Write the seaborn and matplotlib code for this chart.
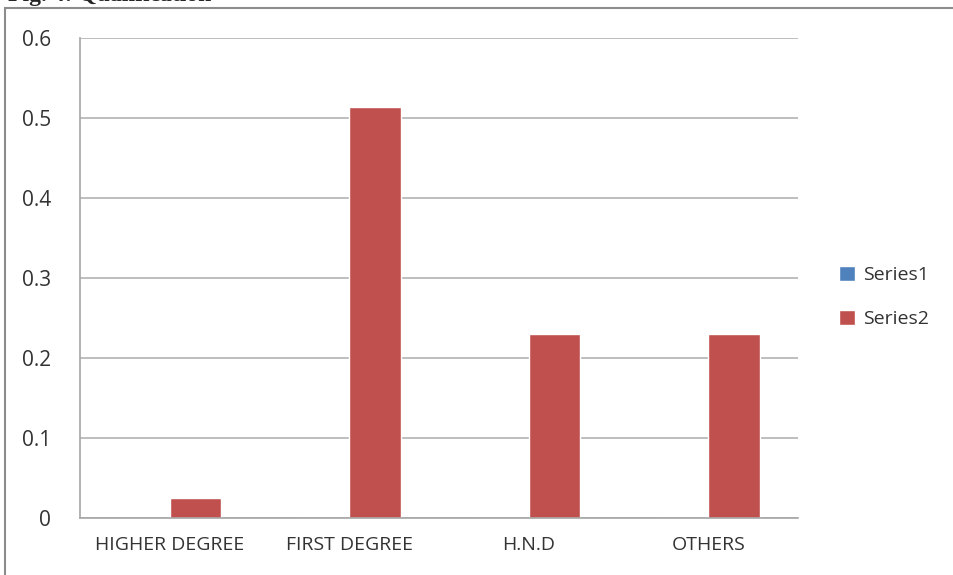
import matplotlib
matplotlib.use("Agg")
import matplotlib.pyplot as plt
import seaborn as sns
import pandas as pd
from matplotlib.patches import Rectangle

categories = ["HIGHER DEGREE", "FIRST DEGREE", "H.N.D", "OTHERS"]
series1 = [0.0, 0.0, 0.0, 0.0]
series2 = [0.025, 0.514, 0.23, 0.23]
series_names = ["Series1", "Series2"]
yticks = [0, 0.1, 0.2, 0.3, 0.4, 0.5, 0.6]
ytick_labels = ["0", "0.1", "0.2", "0.3", "0.4", "0.5", "0.6"]

df = pd.DataFrame({
    "category": categories * 2,
    "series": [series_names[0]] * 4 + [series_names[1]] * 4,
    "value": series1 + series2,
})

sns.set_style("white")
plt.rcParams["font.family"] = ["Open Sans", "DejaVu Sans"]

W, H = 954, 575
fig = plt.figure(figsize=(W / 100, H / 100), dpi=100)
ax = fig.add_axes([80 / W, 1 - 518 / H, (798 - 80) / W, (518 - 38) / H])

palette = {"Series1": "#4F81BD", "Series2": "#C0504D"}
sns.barplot(data=df, x="category", y="value", hue="series", order=categories,
            hue_order=series_names, palette=palette, width=0.572, ax=ax,
            saturation=1, errorbar=None, legend=True)

ax.set_xlim(-0.5, 3.5)
ax.set_ylim(0, 0.6)
ax.set_yticks(yticks)
ax.set_yticklabels(ytick_labels, fontsize=15, color="#333333")
ax.set_xticks([-0.5, 0.5, 1.5, 2.5, 3.5], minor=False)
ax.set_xticklabels([])
ax.set_xticks([0, 1, 2, 3], minor=True)
ax.set_xticklabels(categories, minor=True, fontsize=14, color="#333333")
ax.tick_params(axis="x", which="minor", length=0, pad=13)
ax.tick_params(axis="x", which="major", length=8, color="#A6A6A6", width=1.2, direction="out")
ax.tick_params(axis="y", length=7, color="#A6A6A6", width=1.2, direction="out", pad=14)
ax.set_xlabel("")
ax.set_ylabel("")
ax.yaxis.grid(True, color="#B3B3B3", linewidth=1.2)
ax.set_axisbelow(True)
for s in ["top", "right"]:
    ax.spines[s].set_visible(False)
for s in ["left", "bottom"]:
    ax.spines[s].set_color("#A6A6A6")
    ax.spines[s].set_linewidth(1.2)

handles, labels = ax.get_legend_handles_labels()
ax.legend(handles, labels, loc="center left", bbox_to_anchor=(822 / W, 1 - 297 / H),
          bbox_transform=fig.transFigure, frameon=False, fontsize=14,
          handlelength=0.8, handleheight=0.8, handletextpad=0.4, labelspacing=1.3,
          labelcolor="#333333")

fig.patches.append(Rectangle((5 / W, -0.1), 1.2, 1 - 8 / H + 0.1, transform=fig.transFigure,
                             fill=False, edgecolor="#8C8C8C", linewidth=1.5))
fig.text(8 / W, 1 - 1 / H, "Fig. 4: Qualification", family="Liberation Serif",
         fontweight="bold", fontsize=17, va="baseline", ha="left")

fig.savefig("out.png", dpi=100)
